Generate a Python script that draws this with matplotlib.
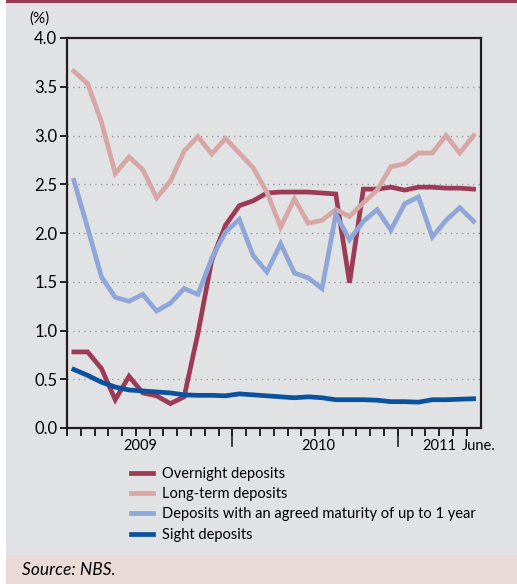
import matplotlib.pyplot as plt
import numpy as np
from matplotlib.patches import Rectangle
from matplotlib.lines import Line2D

plt.rcParams['font.family'] = ['Lato', 'DejaVu Sans']

# monthly data, Jan 2009 - June 2011
overnight = [0.78, 0.78, 0.61, 0.29, 0.53, 0.36, 0.33, 0.25, 0.32, 0.97,
             1.72, 2.08, 2.28, 2.33, 2.41, 2.42, 2.42, 2.42, 2.41, 2.40,
             1.49, 2.45, 2.45, 2.47, 2.44, 2.47, 2.47, 2.46, 2.46, 2.45]
long_term = [3.66, 3.53, 3.14, 2.61, 2.78, 2.65, 2.36, 2.53, 2.84, 2.99,
             2.81, 2.97, 2.82, 2.67, 2.42, 2.06, 2.35, 2.10, 2.13, 2.24,
             2.17, 2.31, 2.44, 2.68, 2.71, 2.82, 2.82, 3.00, 2.82, 3.00]
up_to_1y = [2.54, 2.05, 1.55, 1.34, 1.30, 1.37, 1.20, 1.28, 1.43, 1.37,
            1.74, 2.01, 2.14, 1.77, 1.60, 1.89, 1.59, 1.54, 1.43, 2.19,
            1.93, 2.12, 2.24, 2.03, 2.30, 2.37, 1.96, 2.13, 2.26, 2.12]
sight = [0.60, 0.54, 0.47, 0.42, 0.39, 0.38, 0.37, 0.36, 0.34, 0.335,
         0.335, 0.33, 0.35, 0.34, 0.33, 0.32, 0.31, 0.32, 0.31, 0.29,
         0.29, 0.29, 0.285, 0.27, 0.27, 0.265, 0.29, 0.29, 0.295, 0.30]

series_names = ['Overnight deposits', 'Long-term deposits',
                'Deposits with an agreed maturity of up to 1 year',
                'Sight deposits']
colors = ['#9c3b56', '#d6a7a5', '#8ea6d8', '#0a519e']
year_labels = ['2009', '2010', '2011', 'June.']
year_label_pos = [4.8, 17.7, 26.5, 29.4]

bg = '#e1e2e4'
fig = plt.figure(figsize=(5.17, 5.84), dpi=100)
fig.patch.set_facecolor(bg)

# frame decorations
fig.add_artist(Rectangle((0, 0), 0.012, 1, transform=fig.transFigure,
                         facecolor='white', edgecolor='none'))
fig.add_artist(Rectangle((0.012, 0), 0.988, 29 / 584, transform=fig.transFigure,
                         facecolor='#ebdbd8', edgecolor='none'))
fig.add_artist(Rectangle((0.012, 1 - 3 / 584), 0.988, 3 / 584,
                         transform=fig.transFigure,
                         facecolor='#9c3b56', edgecolor='none'))

ax = fig.add_axes([67 / 517, 156 / 584, 413.5 / 517, 390 / 584])
ax.set_facecolor(bg)

x = np.arange(len(sight))
data = [overnight, long_term, up_to_1y, sight]
for vals, c in zip(data, colors):
    ax.plot(x, vals, color=c, lw=3.4, solid_joinstyle='miter')

ax.set_xlim(-0.5, 29.5)
ax.set_ylim(0, 4)
ax.set_yticks(np.arange(0, 4.01, 0.5))
ax.set_yticklabels([f'{v:.1f}' for v in np.arange(0, 4.01, 0.5)], fontsize=12)
for v in np.arange(0.5, 3.6, 0.5):
    ax.axhline(v, color='#9a9a9a', lw=1, ls=(0, (1, 3)), zorder=0)

ax.set_xticks(np.arange(-0.5, 29, 1))
ax.set_xticklabels([])
ax.tick_params(axis='x', length=6, width=1.2, direction='out')
ax.tick_params(axis='y', length=5, width=1.2, direction='out', pad=2)
for xb in [11.5, 23.5]:
    ax.plot([xb, xb], [0, -0.045], color='#231f20', lw=1.2,
            transform=ax.get_xaxis_transform(), clip_on=False)
for lab, xp in zip(year_labels, year_label_pos):
    ax.text(xp, -0.045, lab, ha='center', va='center', fontsize=10.5,
            transform=ax.get_xaxis_transform())

for s in ax.spines.values():
    s.set_linewidth(1.6)
    s.set_color('#231f20')

fig.text(40 / 517, 1 - 19 / 584, '(%)', fontsize=11, ha='center', va='center')

handles = [Line2D([0], [0], color=c, lw=3.4) for c in colors]
fig.legend(handles, series_names, loc='upper left',
           bbox_to_anchor=(125 / 517, 1 - 461 / 584), frameon=False,
           fontsize=10.5, handlelength=1.5, handletextpad=0.65,
           labelspacing=0.43, borderaxespad=0)

fig.text(22 / 517, 1 - 570 / 584, 'Source: NBS.', fontsize=12.5,
         style='italic', va='center', ha='left')

fig.savefig('out.png', dpi=100, facecolor=fig.get_facecolor())
